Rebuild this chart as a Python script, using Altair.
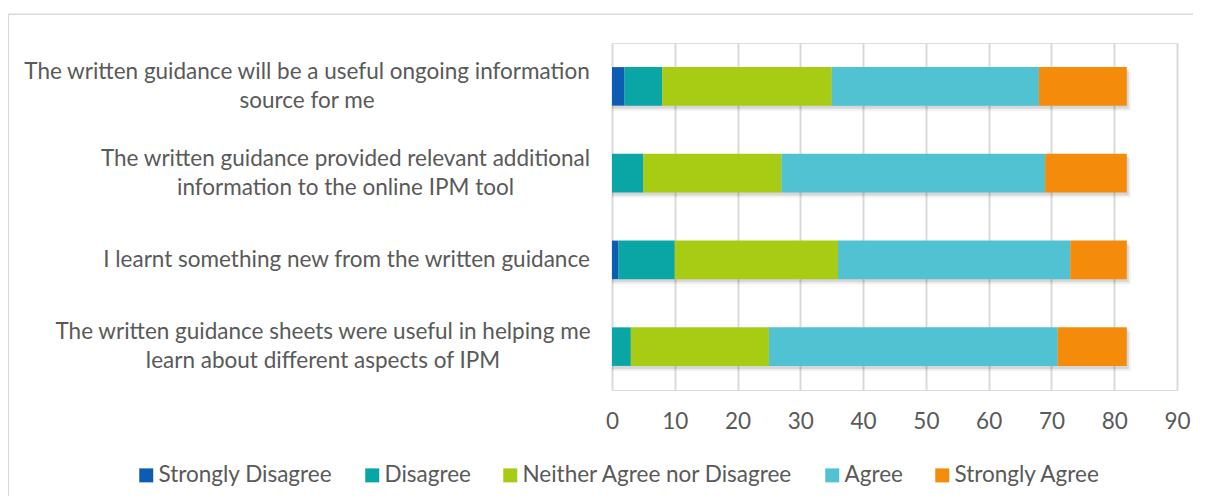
import altair as alt
import pandas as pd

# ---- data ----
questions = [
    "The written guidance will be a useful ongoing information|source for me",
    "The written guidance provided relevant additional|information to the online IPM tool",
    "I learnt something new from the written guidance",
    "The written guidance sheets were useful in helping me|learn about different aspects of IPM",
]
responses = ["Strongly Disagree", "Disagree", "Neither Agree nor Disagree", "Agree", "Strongly Agree"]
strongly_disagree = [2, 0, 1, 0]
disagree = [6, 5, 9, 3]
neither = [27, 22, 26, 22]
agree = [33, 42, 37, 46]
strongly_agree = [14, 13, 9, 11]
tick_values = [0, 10, 20, 30, 40, 50, 60, 70, 80, 90]
colors = ["#0C5DB1", "#0AA6A6", "#A8CB14", "#50C2D2", "#F58B0A"]

series = [strongly_disagree, disagree, neither, agree, strongly_agree]
rows = []
for qi, q in enumerate(questions):
    for ri, r in enumerate(responses):
        rows.append({"question": q, "response": r, "order": ri, "value": series[ri][qi]})
df = pd.DataFrame(rows)

FONT = "Lato"
TXT = "#595959"
FS = 22.5

label_pad = {
    "condition": [
        {"test": f"datum.value === '{questions[0]}'", "value": 305.5},
        {"test": f"datum.value === '{questions[1]}'", "value": 267},
        {"test": f"datum.value === '{questions[2]}'", "value": 266},
    ],
    "value": 289.5,
}
label_off = {
    "condition": {"test": f"datum.value === '{questions[2]}'", "value": 0},
    "value": -14.5,
}

y_enc = alt.Y(
    "question:N",
    sort=questions,
    scale=alt.Scale(paddingInner=0.5555, paddingOuter=0.2778),
    axis=alt.Axis(
        title=None, domain=False, ticks=False, grid=False,
        labelAlign="center", labelBaseline="middle",
        labelPadding=label_pad, labelOffset=label_off,
        labelExpr="split(datum.label, '|')",
        labelFont=FONT, labelFontSize=FS, labelColor=TXT,
        labelLimit=0, labelLineHeight=29,
    ),
)

x_scale = alt.Scale(domain=[0, 90], nice=False)
x_axis = alt.Axis(
    values=tick_values, title=None, domain=False, ticks=False,
    grid=True, gridColor="#D9D9D9", gridWidth=2,
    labelFont=FONT, labelFontSize=FS, labelColor=TXT, labelPadding=20,
    labelFlush=False, labelOverlap=False,
)

base = alt.Chart(df)

shadow1 = base.mark_bar(color="#000000", opacity=0.10, xOffset=2, yOffset=3).encode(
    x=alt.X("sum(value):Q", scale=x_scale, axis=x_axis),
    y=y_enc,
)
shadow2 = base.mark_bar(color="#000000", opacity=0.06, xOffset=4, yOffset=5).encode(
    x=alt.X("sum(value):Q", scale=x_scale, axis=x_axis),
    y=y_enc,
)

bars = base.mark_bar(opacity=1).encode(
    x=alt.X("value:Q", stack="zero", scale=x_scale, axis=x_axis),
    y=y_enc,
    order=alt.Order("order:Q", sort="ascending"),
    color=alt.Color(
        "response:N",
        scale=alt.Scale(domain=responses, range=colors),
        legend=alt.Legend(
            title=None, orient="none", direction="horizontal",
            legendX=-477, legendY=421,
            symbolType="square", symbolSize=196, symbolStrokeWidth=0, symbolOpacity=1,
            labelFont=FONT, labelFontSize=FS, labelColor=TXT,
            labelOffset=1, columnPadding=28, padding=0, labelLimit=0,
        ),
    ),
)

frame_df = pd.DataFrame({"k": [0]})
frame_top = alt.Chart(frame_df).mark_rule(color="#D9D9D9", strokeWidth=1.5).encode(
    x=alt.value(-603.6), x2=alt.value(600), y=alt.value(-28.7)
)
frame_left = alt.Chart(frame_df).mark_rule(color="#D9D9D9", strokeWidth=1.5).encode(
    x=alt.value(-603.6), y=alt.value(-28.7), y2=alt.value(470)
)

chart = alt.layer(frame_top, frame_left, shadow2, shadow1, bars).properties(
    width=565,
    height=347,
    autosize=alt.AutoSizeParams(type="none"),
    padding={"left": 604, "top": 35, "right": 16, "bottom": 106},
).configure_view(stroke=None).configure(font=FONT)

chart.save("out.html", embed_options={"renderer": "svg", "actions": False})
